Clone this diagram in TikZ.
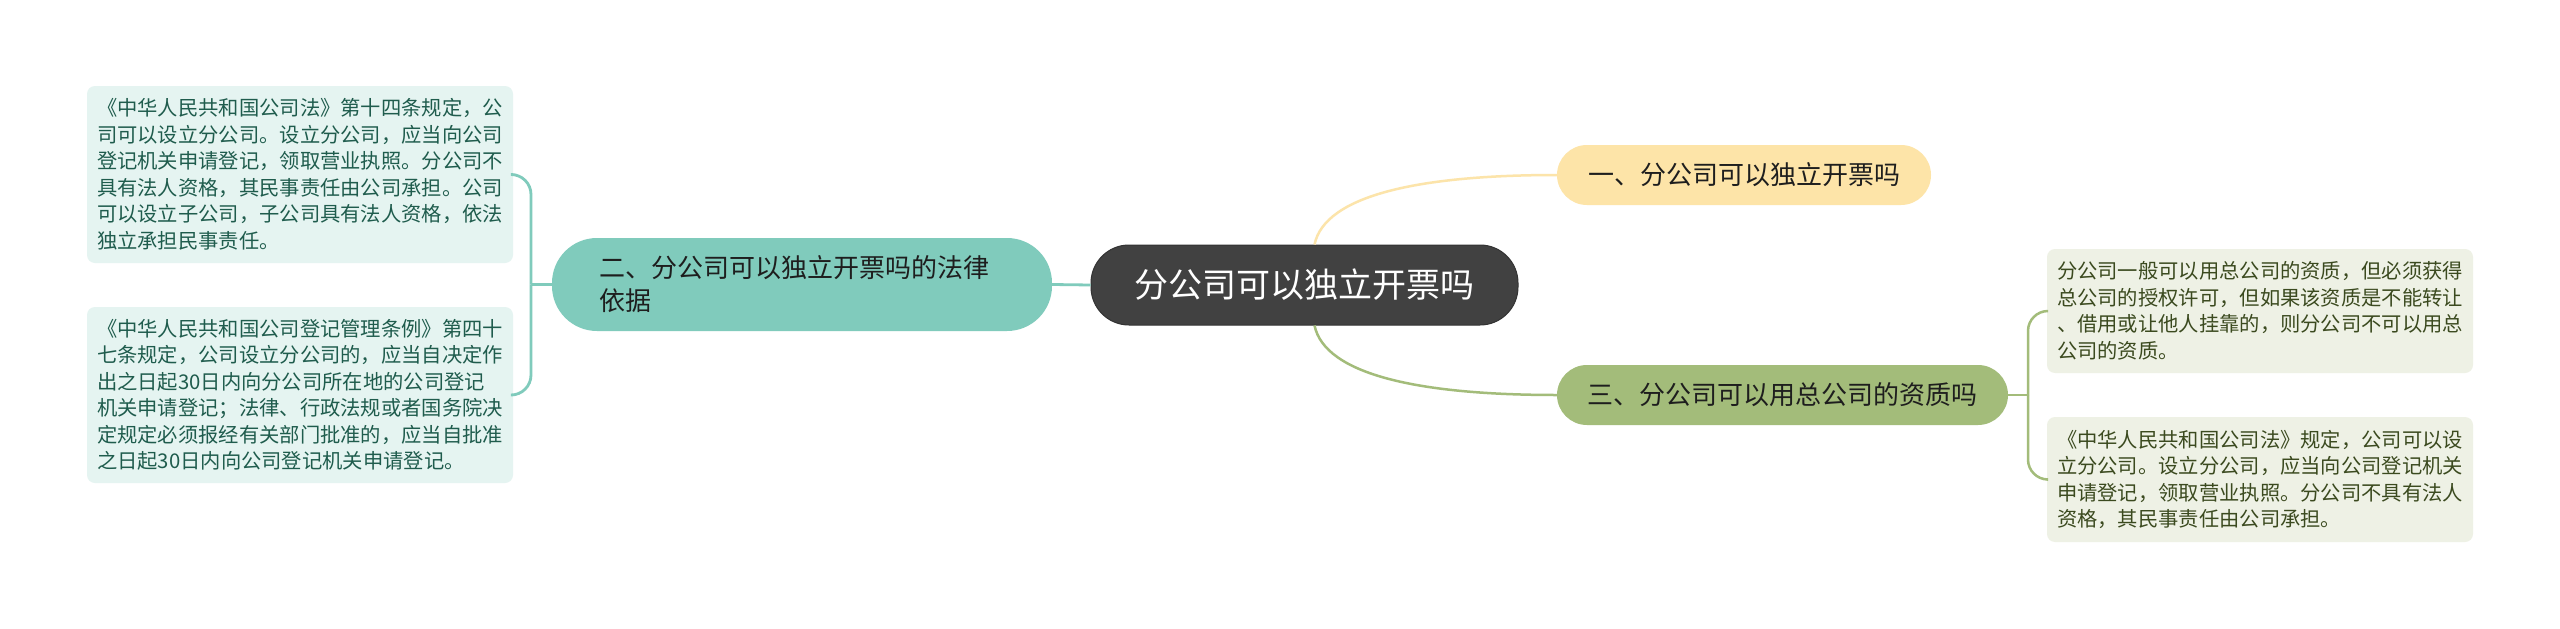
\documentclass[tikz,border=0pt]{standalone}
\usepackage{fontspec}
\setmainfont{Noto Sans CJK SC}
\definecolor{tealfill}{HTML}{80CBBC}
\definecolor{tealline}{HTML}{80CBBC}
\definecolor{tealbg}{HTML}{E5F4F1}
\definecolor{tealtext}{HTML}{1F5C4D}
\definecolor{yelfill}{HTML}{FDE4A8}
\definecolor{yelline}{HTML}{FCE4AA}
\definecolor{grnfill}{HTML}{A3BC7A}
\definecolor{grnline}{HTML}{A3BC7A}
\definecolor{grnbg}{HTML}{EEF1E5}
\definecolor{grntext}{HTML}{3B4A1F}
\definecolor{darkc}{HTML}{414141}
\definecolor{darkborder}{HTML}{333333}
\definecolor{branchtext}{HTML}{1E1E1E}
\begin{document}
\begin{tikzpicture}[x=1pt,y=-1pt,
  leafbox/.style={rounded corners=8pt, font=\fontsize{20.3}{26.5}\selectfont, text width=406pt, align=left, inner xsep=10pt, inner ysep=0pt},
  tealleaf/.style={leafbox, fill=tealbg, text=tealtext},
  grnleaf/.style={leafbox, fill=grnbg, text=grntext},
  branchbox/.style={font=\fontsize{26}{33}\selectfont, text=branchtext, inner sep=0pt, align=center},
  tealconn/.style={draw=tealline, line width=2.8pt},
  yelconn/.style={draw=yelline, line width=2.5pt},
  grnconn/.style={draw=grnline, line width=2.5pt}
]
\useasboundingbox[fill=white] (0,0) rectangle (2560,629);

% central
\node[fill=darkc, draw=darkborder, line width=1pt, rounded corners=38pt, minimum width=427pt, minimum height=80pt, inner sep=0pt, text=white, font=\fontsize{34}{40}\selectfont] (c) at (1304.5,285) {分公司可以独立开票吗};

% branches
\node[branchbox, fill=yelfill, rounded corners=30pt, minimum width=374pt, minimum height=60pt] (b1) at (1744,175) {一、分公司可以独立开票吗};
\node[branchbox, fill=tealfill, rounded corners=45pt, minimum width=500pt, minimum height=93pt, text width=406pt, align=left, inner xsep=47pt, inner ysep=0pt] (b2) at (802,284.5) {二、分公司可以独立开票吗的法律\\依据};
\node[branchbox, fill=grnfill, rounded corners=30pt, minimum width=451pt, minimum height=60pt] (b3) at (1782.5,395) {三、分公司可以用总公司的资质吗};

% left leaves
\node[tealleaf, minimum height=177pt] (lb1) at (300,174.5) {《中华人民共和国公司法》第十四条规定，公\\司可以设立分公司。设立分公司，应当向公司\\登记机关申请登记，领取营业执照。分公司不\\具有法人资格，其民事责任由公司承担。公司\\可以设立子公司，子公司具有法人资格，依法\\独立承担民事责任。};
\node[tealleaf, minimum height=176pt] (lb2) at (300,395) {《中华人民共和国公司登记管理条例》第四十\\七条规定，公司设立分公司的，应当自决定作\\出之日起30日内向分公司所在地的公司登记\\机关申请登记；法律、行政法规或者国务院决\\定规定必须报经有关部门批准的，应当自批准\\之日起30日内向公司登记机关申请登记。};

% right leaves
\node[grnleaf, minimum height=124pt] (rb1) at (2260,311) {分公司一般可以用总公司的资质，但必须获得\\总公司的授权许可，但如果该资质是不能转让\\、借用或让他人挂靠的，则分公司不可以用总\\公司的资质。};
\node[grnleaf, minimum height=125pt] (rb2) at (2260,479.5) {《中华人民共和国公司法》规定，公司可以设\\立分公司。设立分公司，应当向公司登记机关\\申请登记，领取营业执照。分公司不具有法人\\资格，其民事责任由公司承担。};

% connectors
\draw[yelconn] ([xshift=10pt]c.north) .. controls (1325,195) and (1420,175) .. (b1.west);
\draw[grnconn] ([xshift=10pt]c.south) .. controls (1325,375) and (1420,395) .. (b3.west);
\draw[tealconn] (b2.east) -- (c.west);

\coordinate (jl) at (531,284.5);
\draw[tealconn] (b2.west) -- (jl);
\draw[tealconn, rounded corners=20pt] (jl) |- (lb1.east);
\draw[tealconn, rounded corners=20pt] (jl) |- (lb2.east);

\coordinate (jr) at (2028,395);
\draw[grnconn] (b3.east) -- (jr);
\draw[grnconn, rounded corners=20pt] (jr) |- (rb1.west);
\draw[grnconn, rounded corners=20pt] (jr) |- (rb2.west);
\end{tikzpicture}
\end{document}
